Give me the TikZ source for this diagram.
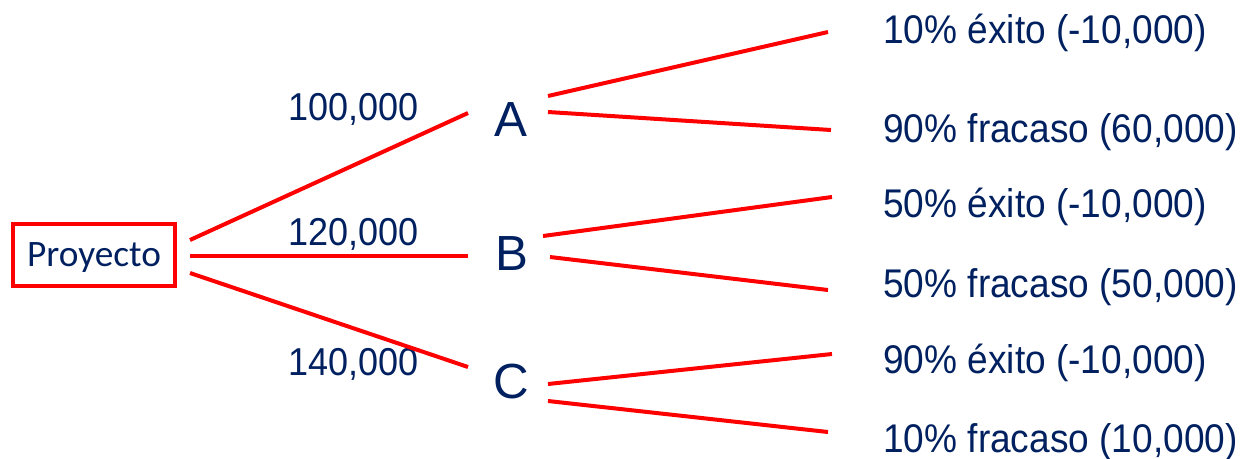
\documentclass[tikz,border=0pt]{standalone}
\usepackage{fontspec}
\setmainfont{Liberation Sans}
\newfontfamily\carlito{Carlito}
\usetikzlibrary{positioning}
\definecolor{navy}{RGB}{0,32,96}
\newcommand{\tall}[1]{\scalebox{1}[1.08]{#1}}

\begin{document}
\begin{tikzpicture}[x=0.75pt,y=-0.75pt,
  every node/.style={text=navy,inner sep=0pt},
  branch/.style={draw=red,line width=3pt},
  amount/.style={anchor=base west,font=\fontsize{27}{32}\selectfont},
  option/.style={anchor=base,font=\fontsize{37}{44}\selectfont},
  outcome/.style={anchor=base west,font=\fontsize{27.8}{33}\selectfont}]
\useasboundingbox (0,0) rectangle (1242,458);
% root
\node[draw=red,line width=3pt,minimum width=121pt,minimum height=46pt,text depth=0pt,
  font=\carlito\fontsize{28}{33}\selectfont] (proy) at (94,255) {Proyecto};
% options
\node[option] (A) at (511,136) {A};
\node[option] (B) at (512,270) {B};
\node[option] (C) at (511,398) {C};
\node[amount] (costA) at (288,120) {\tall{100,000}};
\node[amount] (costB) at (288,245) {\tall{120,000}};
\node[amount] (costC) at (288,375) {\tall{140,000}};
% outcomes
\node[outcome] (exA) at (883,43) {\tall{10\% éxito (-10,000)}};
\node[outcome] (frA) at (883,142) {\tall{90\% fracaso (60,000)}};
\node[outcome] (exB) at (883,217) {\tall{50\% éxito (-10,000)}};
\node[outcome] (frB) at (883,297) {\tall{50\% fracaso (50,000)}};
\node[outcome] (exC) at (883,373) {\tall{90\% éxito (-10,000)}};
\node[outcome] (frC) at (883,452) {\tall{10\% fracaso (10,000)}};
% line ends
\coordinate (pA) at (190,240);
\coordinate (pB) at (190,256);
\coordinate (pC) at (190,273);
\coordinate (inA) at (468,113);
\coordinate (inB) at (468,256);
\coordinate (inC) at (468,367);
\coordinate (outA1) at (548,96);
\coordinate (outA2) at (548,112);
\coordinate (outB1) at (543,236);
\coordinate (outB2) at (550,257);
\coordinate (outC1) at (548,384);
\coordinate (outC2) at (548,401);
\coordinate (endA1) at (828,32);
\coordinate (endA2) at (831,130);
\coordinate (endB1) at (832,197);
\coordinate (endB2) at (828,290);
\coordinate (endC1) at (832,354);
\coordinate (endC2) at (828,432);
% branches
\draw[branch] (pA) -- (inA);
\draw[branch] (pB) -- (inB);
\draw[branch] (pC) -- (inC);
\draw[branch] (outA1) -- (endA1);
\draw[branch] (outA2) -- (endA2);
\draw[branch] (outB1) -- (endB1);
\draw[branch] (outB2) -- (endB2);
\draw[branch] (outC1) -- (endC1);
\draw[branch] (outC2) -- (endC2);
\end{tikzpicture}
\end{document}
